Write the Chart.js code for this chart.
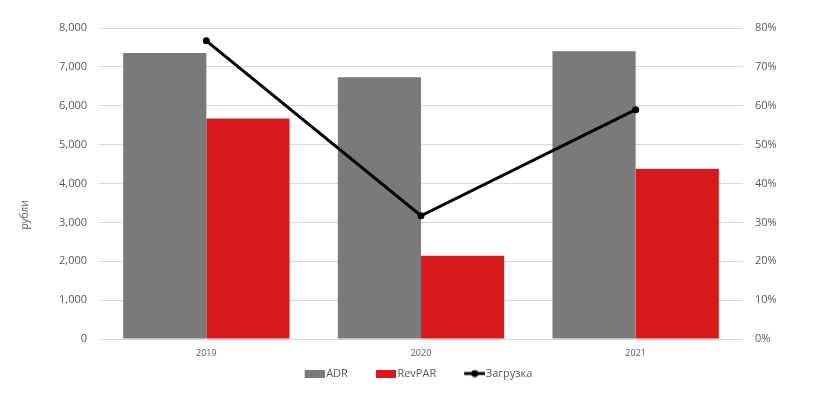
<!DOCTYPE html>
<html>
<head>
<meta charset="utf-8">
<script src="https://cdn.jsdelivr.net/npm/chart.js@4.4.1/dist/chart.umd.min.js"></script>
<style>
html,body{margin:0;padding:0;background:#fff;}
#wrap{width:837px;height:400px;position:relative;}
</style>
</head>
<body>
<div id="wrap"><canvas id="c" width="837" height="400"></canvas></div>
<script>
const categories = ['2019', '2020', '2021'];
const adrValues = [7360, 6730, 7405];
const revparValues = [5670, 2140, 4380];
const loadValues = [76.7, 31.7, 59.0];
const seriesNames = ['ADR', 'RevPAR', 'Загрузка'];
const leftAxisTitle = 'рубли';

const GRAY = '#7a7a7a';
const RED = '#d7191c';
const FONT = "'Open Sans', sans-serif";

// Legend icons: canvas centred on the legend box; the visible mark sits in the
// right half so the left half acts as spacing between items.
function boxIcon(color, w, h) {
  const c = document.createElement('canvas');
  c.width = 2 * w; c.height = h;
  const g = c.getContext('2d');
  g.fillStyle = color;
  g.fillRect(w, 0, w, h);
  return c;
}
function lineIcon(w, h) {
  const c = document.createElement('canvas');
  c.width = 2 * w; c.height = h;
  const g = c.getContext('2d');
  g.strokeStyle = '#000';
  g.lineWidth = 3;
  g.beginPath(); g.moveTo(w, h / 2); g.lineTo(2 * w, h / 2); g.stroke();
  g.fillStyle = '#000';
  g.beginPath(); g.arc(w + w / 2, h / 2, 3.5, 0, Math.PI * 2); g.fill();
  return c;
}
const icons = [boxIcon(GRAY, 20, 8), boxIcon(RED, 20, 8), lineIcon(21, 8)];

const titlePlugin = {
  id: 'leftTitle',
  afterDraw(chart) {
    const ctx = chart.ctx;
    ctx.save();
    ctx.translate(25, 215);
    ctx.rotate(-Math.PI / 2);
    ctx.font = '10px ' + FONT;
    ctx.fillStyle = '#595959';
    ctx.textAlign = 'center';
    ctx.textBaseline = 'middle';
    ctx.fillText(leftAxisTitle, 0, 0);
    ctx.restore();
  }
};

new Chart(document.getElementById('c'), {
  type: 'bar',
  data: {
    labels: categories,
    datasets: [
      {
        type: 'line',
        label: seriesNames[2],
        data: loadValues,
        yAxisID: 'y1',
        borderColor: '#000',
        backgroundColor: '#000',
        borderWidth: 3,
        pointRadius: 3.5,
        pointBackgroundColor: '#000',
        pointBorderWidth: 0,
        tension: 0,
        order: 0
      },
      {
        label: seriesNames[0],
        data: adrValues,
        backgroundColor: GRAY,
        yAxisID: 'y',
        barPercentage: 1,
        categoryPercentage: 0.775,
        order: 1
      },
      {
        label: seriesNames[1],
        data: revparValues,
        backgroundColor: RED,
        yAxisID: 'y',
        barPercentage: 1,
        categoryPercentage: 0.775,
        order: 1
      }
    ]
  },
  options: {
    responsive: false,
    animation: false,
    layout: { padding: { top: 28, left: 0, right: 16, bottom: 11 } },
    plugins: {
      tooltip: { enabled: false },
      legend: {
        position: 'bottom',
        labels: {
          usePointStyle: true,
          pointStyleWidth: 32,
          boxHeight: 8,
          padding: 12,
          color: '#595959',
          font: { family: FONT, size: 11 },
          generateLabels(chart) {
            const order = [1, 2, 0];
            return order.map((di, i) => ({
              text: chart.data.datasets[di].label,
              pointStyle: icons[i],
              fillStyle: 'transparent',
              strokeStyle: 'transparent',
              lineWidth: 0,
              hidden: false,
              datasetIndex: di,
              fontColor: '#595959'
            }));
          }
        }
      }
    },
    scales: {
      x: {
        grid: { display: false, drawTicks: false },
        border: { display: false },
        ticks: { color: '#595959', font: { family: FONT, size: 9 }, padding: 9 },
        afterFit(s) { s.height = 17; }
      },
      y: {
        position: 'left',
        min: 0, max: 8000,
        ticks: {
          stepSize: 1000,
          color: '#595959',
          font: { family: FONT, size: 11 },
          padding: 12,
          callback: v => v.toLocaleString('en-US')
        },
        grid: { color: '#d9d9d9', lineWidth: 1, drawTicks: false },
        border: { display: false },
        afterFit(s) { s.width = 99; }
      },
      y1: {
        position: 'right',
        min: 0, max: 80,
        ticks: {
          stepSize: 10,
          color: '#595959',
          font: { family: FONT, size: 11 },
          padding: 12,
          callback: v => v + '%'
        },
        grid: { display: false, drawTicks: false },
        border: { display: false },
        afterFit(s) { s.width = 78; }
      }
    }
  },
  plugins: [titlePlugin]
});
</script>
</body>
</html>
